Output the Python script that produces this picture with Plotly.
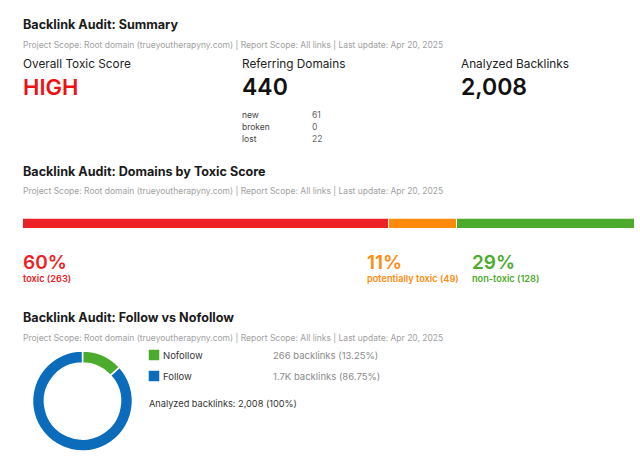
import plotly.graph_objects as go

W, H = 640, 459
FONT = "Inter, Noto Sans, sans-serif"

# ---- data ----
summary_labels = ["Overall Toxic Score", "Referring Domains", "Analyzed Backlinks"]
summary_values = ["HIGH", "440", "2,008"]
domain_change_labels = ["new", "broken", "lost"]
domain_change_values = [61, 0, 22]

toxic_categories = ["toxic", "potentially toxic", "non-toxic"]
toxic_counts = [263, 49, 128]
toxic_pcts = [60, 11, 29]
toxic_colors = ["#ec2227", "#ff8a0c", "#4caa2c"]

follow_labels = ["Nofollow", "Follow"]
follow_counts = [266, 1742]
follow_count_text = ["266", "1.7K"]
follow_pcts = [13.25, 86.75]
follow_colors = ["#4caa2c", "#0c6cbc"]
analyzed_total = "2,008"

subtitle = "Project Scope: Root domain (trueyoutherapyny.com) | Report Scope: All links | Last update: Apr 20, 2025"


def px(x):
    return x / W


def py(y):
    return 1 - y / H


fig = go.Figure()

# stacked toxic bar
for cat, cnt, col in zip(toxic_categories, toxic_counts, toxic_colors):
    fig.add_trace(go.Bar(
        x=[cnt], y=[0], orientation="h", marker=dict(color=col, line=dict(color="white", width=1.5)),
        name=cat, showlegend=False, hoverinfo="skip", width=1,
    ))

# donut
fig.add_trace(go.Pie(
    labels=follow_labels, values=follow_counts, hole=0.76, sort=False, direction="clockwise",
    rotation=0, marker=dict(colors=follow_colors, line=dict(color="white", width=1.5)),
    textinfo="none", showlegend=False, hoverinfo="skip",
    domain=dict(x=[px(32), px(133)], y=[py(451), py(351)]),
))

fig.update_layout(
    width=W, height=H, margin=dict(l=0, r=0, t=0, b=0),
    paper_bgcolor="white", plot_bgcolor="white",
    barmode="stack", bargap=0,
    xaxis=dict(domain=[px(23), px(635)], range=[0, sum(toxic_counts)], visible=False, fixedrange=True),
    yaxis=dict(domain=[py(229.5), py(218.5)], range=[-0.5, 0.5], visible=False, fixedrange=True),
    font=dict(family=FONT),
)

ann = []


def text(x, y, s, size, color, weight=None, anchor="left"):
    f = dict(family=FONT, size=size, color=color)
    if weight is not None:
        f["weight"] = weight
    ann.append(dict(x=px(x), y=py(y), xref="paper", yref="paper", text=s, showarrow=False,
                    xanchor=anchor, yanchor="middle", font=f, borderpad=0))


# section titles / subtitles
for ty, title in [(25, "Backlink Audit: Summary"), (171, "Backlink Audit: Domains by Toxic Score"),
                  (317, "Backlink Audit: Follow vs Nofollow")]:
    text(22, ty, title, 12.6, "#1a1a1a", weight=650)
    text(22, ty + 20, subtitle, 8.5, "#a0a0a0")

# summary
sx = [22, 241, 460]
for i, (lab, val) in enumerate(zip(summary_labels, summary_values)):
    text(sx[i], 64, lab, 11.8, "#222222")
    if i == 0:
        text(sx[i], 87, val, 22, "#ee1111", weight=600)
    else:
        text(sx[i], 87, val, 23, "#111111", weight=600)
for j, (lab, val) in enumerate(zip(domain_change_labels, domain_change_values)):
    text(241, 115 + 12 * j, lab, 8.5, "#444444")
    text(311, 115 + 12 * j, str(val), 8.5, "#666666")

# toxic labels
lx = [22, 366, 471]
for i in range(3):
    text(lx[i], 262, f"{toxic_pcts[i]}%", 19, toxic_colors[i], weight=600)
    text(lx[i], 278, f"{toxic_categories[i]} ({toxic_counts[i]})", 9.2, toxic_colors[i], weight=600)

# follow legend
shapes = []
for j, (lab, ct, pc, col) in enumerate(zip(follow_labels, follow_count_text, follow_pcts, follow_colors)):
    yc = 355 + 21 * j
    shapes.append(dict(type="rect", xref="paper", yref="paper", x0=px(149), x1=px(159),
                       y0=py(yc + 5), y1=py(yc - 5), fillcolor=col, line=dict(color=col, width=0.5)))
    text(162, yc, lab, 9.5, "#333333")
    text(272, yc, f"{ct} backlinks ({pc:.2f}%)", 9.5, "#8a8a8a")
text(148, 403, f"Analyzed backlinks: {analyzed_total} (100%)", 9.2, "#333333")

fig.update_layout(annotations=ann, shapes=shapes)
fig.write_html("out.html")
